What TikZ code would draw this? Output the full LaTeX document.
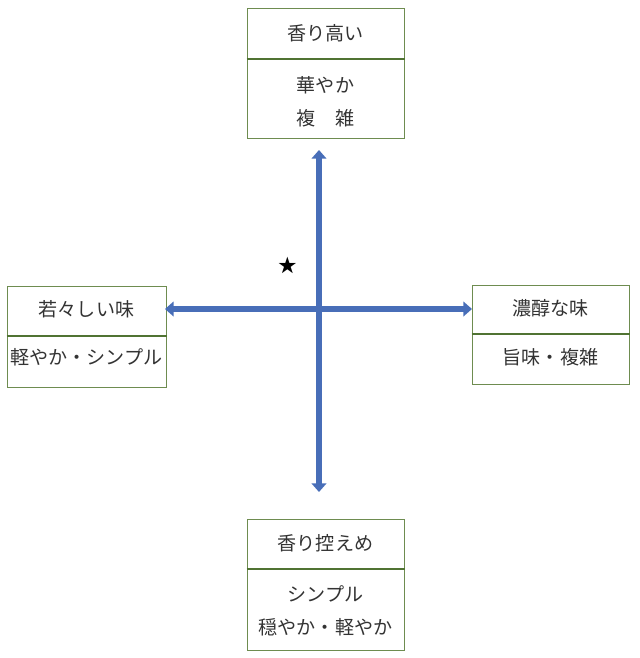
\documentclass[tikz,border=0pt]{standalone}
\usepackage{fontspec}
\setmainfont{Noto Sans CJK JP}
\usetikzlibrary{arrows.meta}
\definecolor{boxgreen}{RGB}{110,140,80}
\definecolor{divgreen}{RGB}{80,115,50}
\definecolor{axisblue}{RGB}{72,110,184}
\begin{document}
\begin{tikzpicture}[x=0.75pt,y=-0.75pt,
  box/.style={draw=boxgreen,line width=0.75pt,rectangle,inner sep=0pt},
  divider/.style={draw=divgreen,line width=1.3pt},
  txt/.style={font=\fontsize{14.3pt}{16pt}\selectfont,text=black!80,inner sep=0pt},
  axis/.style={draw=axisblue,line width=5.2pt,{Triangle[width=11pt,length=6.5pt]}-{Triangle[width=11pt,length=6.5pt]}}]
\useasboundingbox (0,0) rectangle (640,658);
% boxes
\node[box,minimum width=117.75pt,minimum height=97.5pt] (top) at (325.5,73) {};
\node[box,minimum width=119.25pt,minimum height=75.75pt] (left) at (86.5,336.5) {};
\node[box,minimum width=117.75pt,minimum height=74.25pt] (right) at (550.5,334.5) {};
\node[box,minimum width=117.75pt,minimum height=98.25pt] (bottom) at (325.5,584.5) {};
% dividers
\draw[divider] (top.west |- 0,59) -- (top.east |- 0,59);
\draw[divider] (left.west |- 0,336) -- (left.east |- 0,336);
\draw[divider] (right.west |- 0,334) -- (right.east |- 0,334);
\draw[divider] (bottom.west |- 0,569) -- (bottom.east |- 0,569);
% texts
\node[txt] (t1) at (325.5,33) {香り高い};
\node[txt] (t2) at (325.5,85) {華やか};
\node[txt] (t3) at (325.5,118) {複\hspace{1em}雑};
\node[txt] (l1) at (86.5,309) {若々しい味};
\node[txt] (l2) at (86.5,357) {軽やか・シンプル};
\node[txt] (r1) at (550.5,308) {濃醇な味};
\node[txt] (r2) at (550.5,357) {旨味・複雑};
\node[txt] (b1) at (325.5,543) {香り控えめ};
\node[txt] (b2) at (325.5,594) {シンプル};
\node[txt] (b3) at (325.5,627) {穏やか・軽やか};
\node[font=\fontsize{14pt}{14pt}\selectfont,inner sep=0pt] (star) at (288,265) {★};
% axes
\coordinate (vt) at (319,150);
\coordinate (vb) at (319,492);
\coordinate (hl) at (165,309);
\coordinate (hr) at (472,309);
\draw[axis] (vb) -- (vt);
\draw[axis] (hl) -- (hr);
\end{tikzpicture}
\end{document}
